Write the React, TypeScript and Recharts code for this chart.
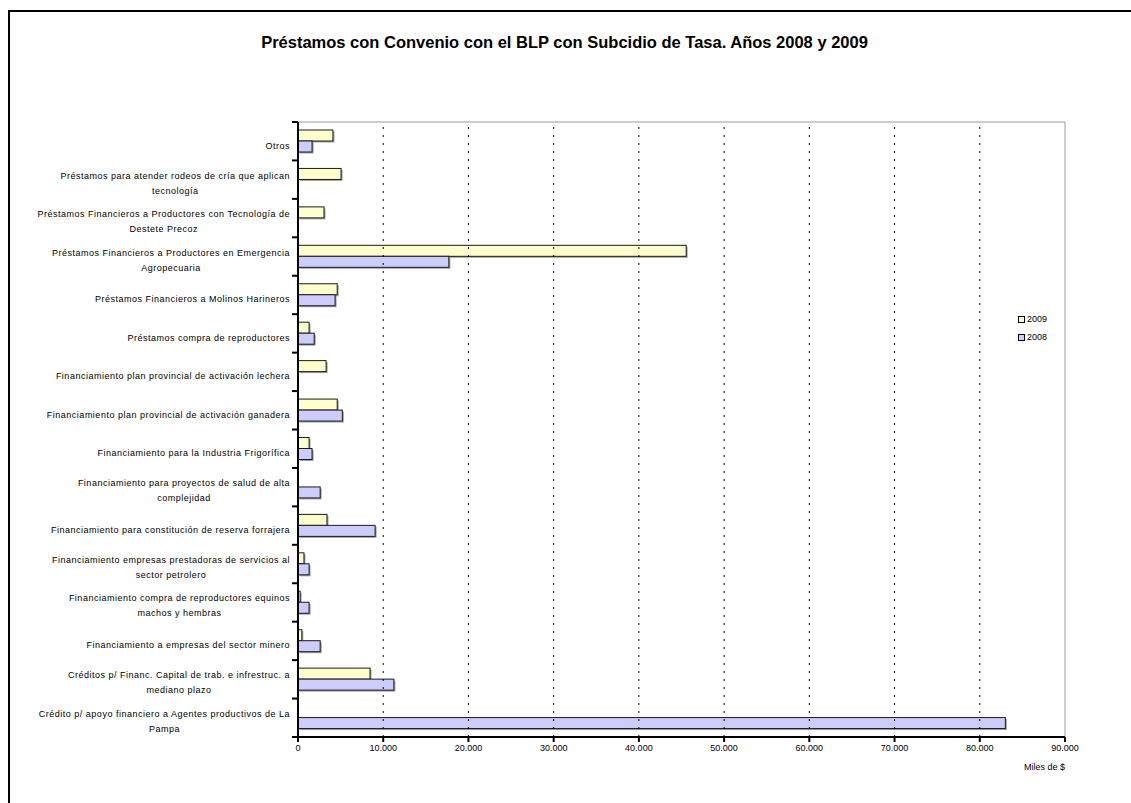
import React from 'react';
import {
  BarChart,
  Bar,
  XAxis,
  YAxis,
  ReferenceLine,
  ReferenceArea,
  Legend,
} from 'recharts';

const categories = [
  'Otros',
  'Préstamos para atender rodeos de cría que aplican\ntecnología',
  'Préstamos Financieros a Productores con Tecnología de\nDestete Precoz',
  'Préstamos Financieros a Productores en Emergencia\nAgropecuaria',
  'Préstamos Financieros a Molinos Harineros',
  'Préstamos compra de reproductores',
  'Financiamiento plan provincial de activación lechera',
  'Financiamiento plan provincial de activación ganadera',
  'Financiamiento para la Industria Frigorífica',
  'Financiamiento para proyectos de salud de alta\ncomplejidad',
  'Financiamiento para constitución de reserva forrajera',
  'Financiamiento empresas prestadoras de servicios al\nsector petrolero',
  'Financiamiento compra de reproductores equinos\nmachos y hembras',
  'Financiamiento a empresas del sector minero',
  'Créditos p/ Financ. Capital de trab. e infrestruc. a\nmediano plazo',
  'Crédito p/ apoyo financiero a Agentes productivos de La\nPampa',
];

// miles de $
const values2009 = [4100, 5050, 3050, 45550, 4600, 1300, 3300, 4600, 1300, null, 3400, 700, 250, 450, 8450, null];
const values2008 = [1650, null, null, 17700, 4350, 1900, null, 5200, 1650, 2600, 9050, 1300, 1300, 2600, 11250, 83000];

const xTicks = [0, 10000, 20000, 30000, 40000, 50000, 60000, 70000, 80000, 90000];

const data = categories.map((name, i) => ({
  name,
  y2009: values2009[i],
  y2008: values2008[i],
}));

const FONT = '"Liberation Sans", Arial, sans-serif';
const W = 1131;
const H = 803;
const PLOT_LEFT = 298;
const PLOT_TOP = 122;
const PLOT_BOTTOM = 737;
const BAND = (PLOT_BOTTOM - PLOT_TOP) / categories.length;

const fmt = (v: number) => String(v).replace(/\B(?=(\d{3})+(?!\d))/g, '.');

const ShadowBar = (props: any) => {
  const { x, y, width, height, fill } = props;
  if (!width || width <= 0) return null;
  return (
    <g>
      <rect x={x + 1.5} y={y + 1.5} width={width} height={height} fill="#a0a0a0" />
      <rect x={x} y={y} width={width} height={height} fill={fill} stroke="#1a1a1a" strokeWidth={1} />
    </g>
  );
};

const CategoryTick = (props: any) => {
  const { y, payload, index } = props;
  const lines = String(payload.value).split('\n');
  const top = y - BAND / 2;
  return (
    <g>
      <line x1={PLOT_LEFT - 6} x2={PLOT_LEFT} y1={top} y2={top} stroke="#000" strokeWidth={2} />
      {index === categories.length - 1 && (
        <line x1={PLOT_LEFT - 6} x2={PLOT_LEFT} y1={top + BAND} y2={top + BAND} stroke="#000" strokeWidth={2} />
      )}
      <foreignObject x={0} y={y - 16} width={PLOT_LEFT - 8} height={40}>
        <div
          style={{
            display: 'flex',
            justifyContent: 'flex-end',
            alignItems: 'center',
            height: '100%',
          }}
        >
          <div
            style={{
              textAlign: 'center',
              fontFamily: FONT,
              fontSize: 9,
              lineHeight: '15px',
              letterSpacing: 0.5,
              color: '#000',
              whiteSpace: 'nowrap',
              paddingTop: lines.length === 1 ? 2 : 0,
            }}
          >
            {lines.map((l, k) => (
              <div key={k}>{l}</div>
            ))}
          </div>
        </div>
      </foreignObject>
    </g>
  );
};

const LegendBox = (props: any) => {
  const items = [...(props.payload || [])].sort((a: any, b: any) =>
    String(b.value).localeCompare(String(a.value))
  );
  return (
    <div style={{ fontFamily: FONT, fontSize: 9, color: '#000' }}>
      {items.map((p: any) => (
        <div key={p.value} style={{ display: 'flex', alignItems: 'center', height: 18 }}>
          <span
            style={{
              display: 'inline-block',
              width: 5,
              height: 5,
              background: p.color,
              border: '1px solid #000',
              marginRight: 2,
            }}
          />
          {p.value}
        </div>
      ))}
    </div>
  );
};

export default function App() {
  return (
    <div
      style={{
        position: 'absolute',
        left: 0,
        top: 0,
        width: W,
        height: H,
        overflow: 'hidden',
        background: '#fff',
      }}
    >
      <div
        style={{
          position: 'absolute',
          left: 8,
          top: 10,
          width: 2000,
          height: 2000,
          borderLeft: '2px solid #000',
          borderTop: '2px solid #000',
        }}
      />
      <div
        style={{
          position: 'absolute',
          left: 0,
          top: 33,
          width: W - 2,
          textAlign: 'center',
          fontFamily: FONT,
          fontWeight: 'bold',
          fontSize: 16.5,
          color: '#000',
        }}
      >
        Préstamos con Convenio con el BLP con Subcidio de Tasa. Años 2008 y 2009
      </div>
      <div
        style={{
          position: 'absolute',
          left: 985,
          top: 762,
          width: 80,
          textAlign: 'right',
          fontFamily: FONT,
          fontSize: 9,
          color: '#000',
        }}
      >
        Miles de $
      </div>
      <div style={{ position: 'absolute', left: 0, top: 0 }}>
        <BarChart
          width={W}
          height={H}
          data={data}
          layout="vertical"
          margin={{ top: PLOT_TOP, right: W - 1065, bottom: H - PLOT_BOTTOM - 30, left: 0 }}
          barCategoryGap={8}
          barGap={0}
        >
          <ReferenceArea x1={0} x2={90000} fill="none" stroke="#9a9a9a" strokeWidth={1} ifOverflow="visible" />
          {xTicks.slice(1, -1).map((t) => (
            <ReferenceLine key={t} x={t} stroke="#000" strokeDasharray="2 6" strokeWidth={1} />
          ))}
          <XAxis
            type="number"
            domain={[0, 90000]}
            ticks={xTicks}
            tickFormatter={fmt}
            height={30}
            axisLine={{ stroke: '#000', strokeWidth: 2 }}
            tickLine={{ stroke: '#000', strokeWidth: 2 }}
            tickSize={5}
            tickMargin={3}
            tick={{ fontFamily: FONT, fontSize: 9, fill: '#000' }}
            allowDataOverflow
          />
          <YAxis
            type="category"
            dataKey="name"
            width={PLOT_LEFT}
            axisLine={{ stroke: '#000', strokeWidth: 2 }}
            tickLine={false}
            tick={<CategoryTick />}
            interval={0}
          />
          <Legend
            layout="vertical"
            align="center"
            verticalAlign="middle"
            content={<LegendBox />}
            wrapperStyle={{ position: 'absolute', left: 1018, top: 310, width: 60 }}
          />
          <Bar dataKey="y2009" name="2009" fill="#FFFFCC" shape={<ShadowBar />} isAnimationActive={false} />
          <Bar dataKey="y2008" name="2008" fill="#CCCCFF" shape={<ShadowBar />} isAnimationActive={false} />
        </BarChart>
      </div>
    </div>
  );
}
